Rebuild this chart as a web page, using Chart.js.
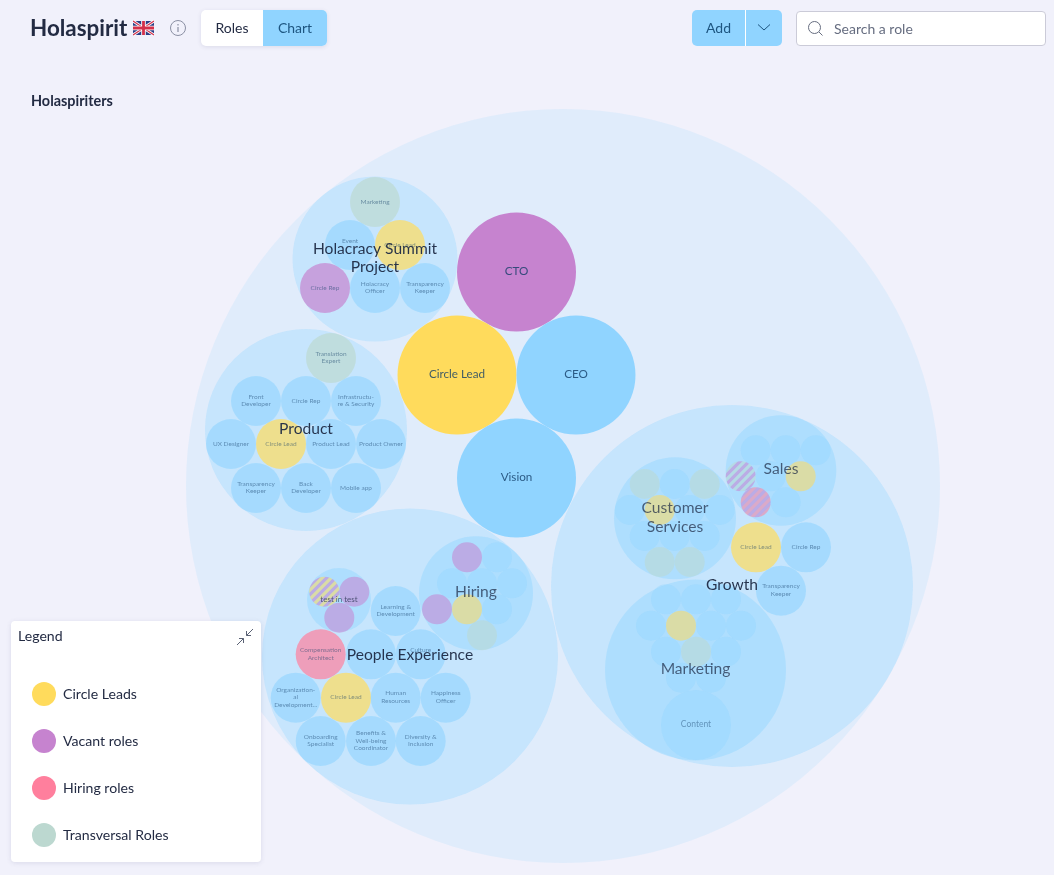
<!DOCTYPE html>
<html>
<head>
<meta charset="utf-8">
<title>Holaspirit</title>
<script src="https://cdn.jsdelivr.net/npm/chart.js@4"></script>
<style>
    html, body { margin: 0; padding: 0; width: 1054px; height: 875px; overflow: hidden; background: #f1f1fb; font-family: Lato, sans-serif; color: #232b43; }
    #myChart { position: absolute; left: 0; top: 0; }
    .abs { position: absolute; }
    #title { left: 30px; top: 14px; font-size: 22.4px; font-weight: 700; line-height: 28px; }
    #subtitle { left: 31px; top: 92px; font-size: 14.4px; font-weight: 700; line-height: 18px; }
    #toggle { left: 201px; top: 10px; width: 126px; height: 36px; border-radius: 5px; overflow: hidden; background: #fff; box-shadow: 0 1px 4px rgba(60,60,110,.12); display: flex; font-size: 14px; line-height: 36px; text-align: center; }
    #toggle div:first-child { width: 62px; }
    #toggle div:last-child { width: 64px; background: #90d4ff; color: #1d5580; }
    #add { left: 692px; top: 10px; width: 90px; height: 36px; border-radius: 5px; overflow: hidden; background: #90d4ff; color: #1d5580; font-size: 14px; line-height: 36px; }
    #add span { position: absolute; left: 14px; }
    #add i { position: absolute; left: 53px; top: 0; width: 1px; height: 36px; background: #fff; }
    #search { left: 796px; top: 11px; width: 248px; height: 33px; border: 1px solid #cbcbd8; border-radius: 4px; background: #fff; color: #666d80; font-size: 14px; line-height: 34px; }
    #search span { position: absolute; left: 37px; }
    #legendBox { left: 11px; top: 621px; width: 250px; height: 241px; border-radius: 4px; background: #fff; box-shadow: 0 1px 5px rgba(60,60,110,.12); font-size: 14.1px; }
    #legendBox .head { position: absolute; left: 7px; top: 6px; line-height: 18px; }
    .item { position: absolute; left: 21px; height: 24px; line-height: 24px; white-space: nowrap; }
    .item b { position: absolute; left: 0; top: 0; width: 24px; height: 24px; border-radius: 50%; }
    .item span { position: absolute; left: 31px; }
</style>
</head>
<body>
<canvas id="myChart" width="1054" height="875"></canvas>

<div class="abs" id="title">Holaspirit</div>
<svg class="abs" style="left:133px;top:20px" width="21" height="16" viewBox="0 0 60 40">
    <rect width="60" height="40" fill="#2b3f86"/>
    <path d="M0 0L60 40M60 0L0 40" stroke="#fff" stroke-width="8"/>
    <path d="M0 0L60 40M60 0L0 40" stroke="#d3304a" stroke-width="3"/>
    <path d="M30 0V40M0 20H60" stroke="#fff" stroke-width="13"/>
    <path d="M30 0V40M0 20H60" stroke="#d3304a" stroke-width="8"/>
</svg>
<svg class="abs" style="left:169px;top:19px" width="18" height="18" viewBox="0 0 18 18">
    <circle cx="9" cy="9" r="7.5" fill="none" stroke="#8a8fa3" stroke-width="1"/>
    <path d="M9 8V13M9 5V6.4" stroke="#8a8fa3" stroke-width="1.2"/>
</svg>
<div class="abs" id="toggle"><div>Roles</div><div>Chart</div></div>
<div class="abs" id="add"><span>Add</span><i></i>
    <svg class="abs" style="left:65px;top:13px" width="14" height="9" viewBox="0 0 14 9"><path d="M1 1.5L7 7L13 1.5" fill="none" stroke="#1d5580" stroke-width="1"/></svg>
</div>
<div class="abs" id="search">
    <svg class="abs" style="left:10px;top:8px" width="17" height="17" viewBox="0 0 17 17"><circle cx="7.5" cy="7.5" r="6" fill="none" stroke="#666d80" stroke-width="1"/><path d="M12 12L15.5 15.5" stroke="#666d80" stroke-width="1"/></svg>
    <span>Search a role</span>
</div>
<div class="abs" id="subtitle">Holaspiriters</div>

<div class="abs" id="legendBox">
    <div class="head">Legend</div>
    <svg class="abs" style="left:225px;top:7px" width="18" height="18" viewBox="0 0 18 18"><path d="M17 1L10.5 7.5M10.5 3V7.5H15M1 17L7.5 10.5M3 10.5H7.5V15" fill="none" stroke="#5b6275" stroke-width="1"/></svg>
</div>

<script>
const legendLabels = ["Circle Leads", "Vacant roles", "Hiring roles", "Transversal Roles"]
const legendKinds = ["lead", "vacant", "hiring", "transversal"]

// one entry per circle, parents before their children
const circleLabels = [
    "",
    "CTO", "Circle Lead", "CEO", "Vision",
    "Holacracy Summit\nProject", "Marketing", "Event\n", "Circle Lead", "Circle Rep", "Holacracy\nOfficer", "Transparency\nKeeper",
    "Product", "Translation\nExpert", "Front\nDeveloper", "Circle Rep", "Infrastructu-\nre & Security", "UX Designer", "Circle Lead", "Product Lead", "Product Owner", "Transparency\nKeeper", "Back\nDeveloper", "Mobile app",
    "People Experience", "test in test", "", "", "", "Learning &\nDevelopment", "Compensation\nArchitect", "", "Culture\n", "Organization-\nal\nDevelopment...", "Circle Lead", "Human\nResources", "Happiness\nOfficer", "Onboarding\nSpecialist", "Benefits &\nWell-being\nCoordinator", "Diversity &\nInclusion",
    "Hiring", "", "", "", "", "", "", "", "", "",
    "Growth", "Sales", "", "", "", "", "", "", "", "",
    "Customer\nServices", "", "", "", "", "", "", "", "", "", "", "", "",
    "Circle Lead", "Circle Rep", "Transparency\nKeeper",
    "Marketing", "", "", "", "", "", "", "", "", "", "", "", "", "Content",
]
const circleX = [
    563,
    516.5, 457, 576, 516.5,
    375, 375, 350, 400, 325, 375, 425,
    306, 331, 256, 306, 356, 231, 281, 331, 381, 256, 306, 356,
    410, 339, 324.3, 354.3, 339.3, 395.7, 320.7, 371, 420.7, 295.7, 346, 395.7, 445.7, 320.7, 371, 420.7,
    476, 467, 497, 452, 482, 512, 437, 467, 497, 482,
    732, 781, 755.7, 785.7, 815.7, 740.7, 770.7, 800.7, 755.7, 785.7,
    675, 644.7, 674.7, 704.7, 629.7, 659.7, 689.7, 719.7, 644.7, 674.7, 704.7, 659.7, 689.7,
    756, 806, 781,
    695.5, 666, 696, 726, 651, 681, 711, 741, 666, 696, 726, 681, 711, 696,
]
const circleY = [
    486,
    272, 375, 375, 478,
    259, 202, 245, 245, 288, 288, 288,
    430, 358, 401, 401, 401, 444, 444, 444, 444, 488, 488, 488,
    656.5, 600, 591.7, 591.7, 617.7, 611, 654.3, 654.3, 654.3, 697.7, 697.7, 697.7, 697.7, 741, 741, 741,
    593.3, 557.3, 557.3, 583.3, 583.3, 583.3, 609.3, 609.3, 609.3, 635.3,
    586, 470.5, 450.3, 450.3, 450.3, 476.3, 476.3, 476.3, 502.3, 502.3,
    518.3, 484, 484, 484, 510, 510, 510, 510, 536, 536, 536, 562, 562,
    547.3, 547.3, 590.7,
    670, 599.3, 599.3, 599.3, 625.7, 625.7, 625.7, 625.7, 651.7, 651.7, 651.7, 677.7, 677.7, 725,
]
const circleR = [
    377,
    59.5, 59.5, 59.5, 59.5,
    82.5, 25, 25, 25, 25, 25, 25,
    101, 25, 25, 25, 25, 25, 25, 25, 25, 25, 25, 25,
    148, 32, 15, 15, 15, 25, 25, 25, 25, 25, 25, 25, 25, 25, 25, 25,
    57, 15, 15, 15, 15, 15, 15, 15, 15, 15,
    181, 55.3, 15, 15, 15, 15, 15, 15, 15, 15,
    61, 15, 15, 15, 15, 15, 15, 15, 15, 15, 15, 15, 15,
    25, 25, 25,
    90.5, 15, 15, 15, 15, 15, 15, 15, 15, 15, 15, 15, 15, 35,
]
const circleKinds = [
    "group",
    "vacant", "lead", "role", "role",
    "group", "transversal", "role", "lead", "vacant", "role", "role",
    "group", "transversal", "role", "role", "role", "role", "lead", "role", "role", "role", "role", "role",
    "group", "group", "vacant/lead", "vacant", "vacant", "role", "hiring", "role", "role", "role", "lead", "role", "role", "role", "role", "role",
    "group", "vacant", "role", "role", "role", "role", "vacant", "lead", "role", "transversal",
    "group", "group", "role", "role", "role", "vacant/transversal", "role", "lead", "vacant/hiring", "role",
    "group", "transversal", "role", "transversal", "role", "lead", "role", "role", "role", "role", "role", "transversal", "transversal",
    "lead", "role", "role",
    "group", "role", "role", "role", "role", "lead", "role", "role", "role", "transversal", "role", "role", "role", "role",
]
const circleDepths = [
    0,
    1, 1, 1, 1,
    1, 2, 2, 2, 2, 2, 2,
    1, 2, 2, 2, 2, 2, 2, 2, 2, 2, 2, 2,
    1, 2, 3, 3, 3, 2, 2, 2, 2, 2, 2, 2, 2, 2, 2, 2,
    2, 3, 3, 3, 3, 3, 3, 3, 3, 3,
    1, 2, 3, 3, 3, 3, 3, 3, 3, 3,
    2, 3, 3, 3, 3, 3, 3, 3, 3, 3, 3, 3, 3,
    2, 2, 2,
    2, 3, 3, 3, 3, 3, 3, 3, 3, 3, 3, 3, 3, 3,
]

const kindColors = {
    group: "#90d4ff",
    role: "#90d4ff",
    lead: "#ffdb5c",
    vacant: "#c683cf",
    hiring: "#ff7f9d",
    transversal: "#bcd8d0",
}
const groupAlpha = [0.17, 0.33, 0.45]
const roleAlpha = [1, 1, 0.7, 0.55]
const blueAlpha = [1, 1, 0.6, 0.4]
const roleTextAlpha = [0, 0.8, 0.5, 0.45]

function withAlpha(hex, a) {
    const n = parseInt(hex.slice(1), 16)
    return `rgba(${n >> 16}, ${(n >> 8) & 255}, ${n & 255}, ${a})`
}

function stripes(colorA, colorB, alpha) {
    const tile = document.createElement("canvas")
    tile.width = 9
    tile.height = 9
    const c = tile.getContext("2d")
    c.fillStyle = colorA
    c.fillRect(0, 0, 9, 9)
    c.strokeStyle = colorB
    c.lineWidth = 3.2
    c.beginPath()
    c.moveTo(-9, 9); c.lineTo(9, -9)
    c.moveTo(0, 9); c.lineTo(9, 0)
    c.moveTo(0, 18); c.lineTo(18, 0)
    c.stroke()
    // fade the whole tile once so the stripes do not blend with each other
    c.globalCompositeOperation = "destination-in"
    c.fillStyle = `rgba(0, 0, 0, ${alpha})`
    c.fillRect(0, 0, 9, 9)
    return c.createPattern(tile, "repeat")
}

function fillFor(kind, depth) {
    if (kind === "group") return withAlpha(kindColors.group, groupAlpha[depth] ?? 0.45)
    if (kind === "role") return withAlpha(kindColors.role, blueAlpha[depth])
    if (kind.includes("/")) {
        const [a, b] = kind.split("/")
        return stripes(kindColors[a], kindColors[b], roleAlpha[depth])
    }
    return withAlpha(kindColors[kind], roleAlpha[depth])
}

function labelFont(i) {
    const r = circleR[i]
    if (circleKinds[i] === "group") return r < 40 ? 8 : 15.6
    if (r > 50) return 11.7
    return r > 30 ? 8.5 : 6.5
}

const circleText = {
    id: "circleText",
    afterDatasetsDraw(chart) {
        const { ctx, scales } = chart
        const draw = i => {
            if (!circleLabels[i]) return
            const size = labelFont(i)
            const isGroup = circleKinds[i] === "group"
            const alpha = isGroup ? (circleDepths[i] === 1 ? 0.95 : 0.72) : roleTextAlpha[circleDepths[i]]
            const lines = circleLabels[i].split("\n")
            const lh = size * (isGroup ? 1.2 : 1.18)
            const px = scales.x.getPixelForValue(circleX[i])
            const py = scales.y.getPixelForValue(circleY[i]) - size / 14
            ctx.save()
            ctx.font = `${size}px Lato`
            ctx.textAlign = "center"
            ctx.textBaseline = "middle"
            ctx.fillStyle = isGroup ? withAlpha("#1d2a45", alpha) : withAlpha("#123c66", alpha)
            lines.forEach((line, n) => {
                ctx.fillText(line, px, py + (n - (lines.length - 1) / 2) * lh)
            })
            ctx.restore()
        }
        // group names sit on top of the role names
        circleLabels.forEach((_, i) => { if (circleKinds[i] !== "group") draw(i) })
        circleLabels.forEach((_, i) => { if (circleKinds[i] === "group") draw(i) })
    }
}

function createChart() {
    const chartEl = document.getElementById("myChart")

    new Chart(chartEl, {
        type: "bubble",
        data: {
            datasets: [
                {
                    label: "Holaspiriters",
                    data: circleX.map((x, i) => ({ x, y: circleY[i], r: circleR[i] })),
                    backgroundColor: circleKinds.map((k, i) => fillFor(k, circleDepths[i])),
                    borderWidth: 0,
                    clip: false,
                },
            ]
        },
        options: {
            responsive: false,
            animation: false,
            events: [],
            layout: { autoPadding: false, padding: 0 },
            scales: {
                x: { type: "linear", display: false, min: 0, max: 1054 },
                y: { type: "linear", display: false, min: 0, max: 875, reverse: true },
            },
            plugins: {
                legend: { display: false },
                tooltip: { enabled: false },
            }
        },
        plugins: [circleText],
    })

    const box = document.getElementById("legendBox")
    legendLabels.forEach((label, i) => {
        const item = document.createElement("div")
        item.className = "item"
        item.style.top = (61 + i * 47) + "px"
        const dot = document.createElement("b")
        dot.style.background = kindColors[legendKinds[i]]
        const text = document.createElement("span")
        text.textContent = label
        item.append(dot, text)
        box.appendChild(item)
    })
}

createChart()
</script>
</body>
</html>
